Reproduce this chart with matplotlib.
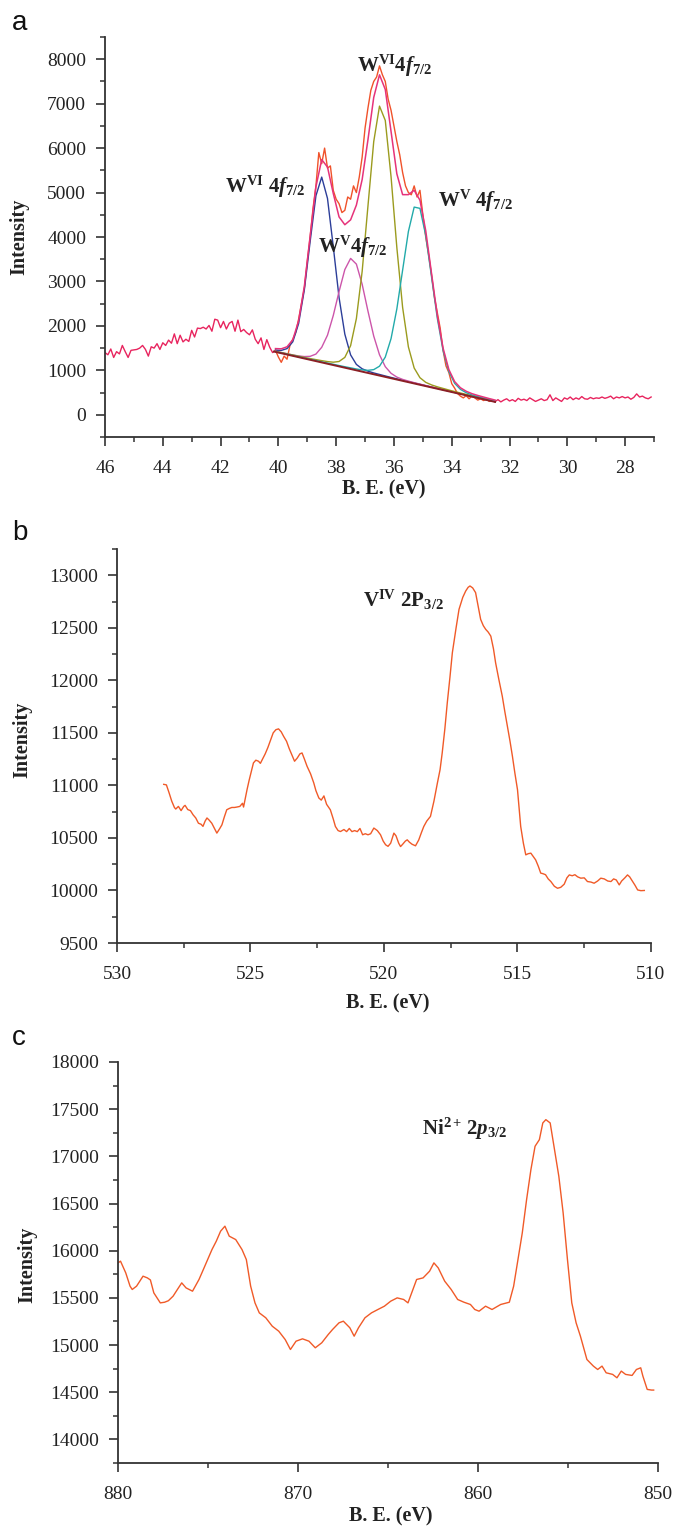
import matplotlib
matplotlib.use("Agg")
import matplotlib.pyplot as plt
from matplotlib.ticker import MultipleLocator

plt.rcParams['font.family'] = ['Liberation Serif', 'DejaVu Serif']
plt.rcParams['mathtext.fontset'] = 'custom'
plt.rcParams['mathtext.rm'] = 'Liberation Serif:bold'
plt.rcParams['mathtext.bf'] = 'Liberation Serif:bold'
plt.rcParams['mathtext.it'] = 'Liberation Serif:italic:bold'

# ---------------- Panel a : W 4f ----------------
a_bg_left_be = [46.0, 45.9, 45.8, 45.7, 45.6, 45.5, 45.4, 45.3, 45.2, 45.1, 45.0, 44.9, 44.8, 44.7, 44.6,
                44.5, 44.4, 44.3, 44.2, 44.1, 44.0, 43.9, 43.8, 43.7, 43.6, 43.5, 43.4, 43.3, 43.2, 43.1,
                43.0, 42.9, 42.8, 42.7, 42.6, 42.5, 42.4, 42.3, 42.2, 42.1, 42.0, 41.9, 41.8, 41.7, 41.6,
                41.5, 41.4, 41.3, 41.2, 41.1, 41.0, 40.9, 40.8, 40.7, 40.6, 40.5, 40.4, 40.3, 40.2, 40.1, 40.0]
a_bg_left_int = [1400, 1350, 1480, 1290, 1420, 1370, 1560, 1420, 1290, 1450, 1460, 1470, 1500, 1560, 1470,
                 1320, 1530, 1500, 1600, 1470, 1620, 1560, 1680, 1610, 1820, 1600, 1790, 1640, 1700, 1650,
                 1900, 1750, 1950, 1940, 1970, 1930, 2010, 1880, 2150, 2130, 1960, 2100, 1930, 2060, 2100,
                 1880, 2130, 1870, 1920, 1850, 1800, 1910, 1700, 1600, 1730, 1470, 1690, 1520, 1400, 1450, 1430]

a_raw_be = [40.1, 40.0, 39.9, 39.8, 39.7, 39.6, 39.5, 39.4, 39.3, 39.2, 39.1, 39.0, 38.9, 38.8, 38.7,
            38.6, 38.5, 38.4, 38.3, 38.2, 38.1, 38.0, 37.9, 37.8, 37.7, 37.6, 37.5, 37.4, 37.3, 37.2,
            37.1, 37.0, 36.9, 36.8, 36.7, 36.6, 36.5, 36.4, 36.3, 36.2, 36.1, 36.0, 35.9, 35.8, 35.7,
            35.6, 35.5, 35.4, 35.3, 35.2, 35.1, 35.0, 34.9, 34.8, 34.7, 34.6, 34.5, 34.4, 34.3, 34.2,
            34.1, 34.0, 33.9, 33.8, 33.7, 33.6, 33.5, 33.4, 33.3, 33.2, 33.1, 33.0, 32.9, 32.8, 32.7,
            32.6, 32.5]
a_raw_int = [1450, 1300, 1180, 1320, 1250, 1560, 1700, 1850, 2150, 2500, 2850, 3450, 4000, 4650, 5150,
             5900, 5650, 6000, 5550, 5600, 5050, 4850, 4750, 4550, 4600, 4900, 4850, 5150, 5000, 5350,
             5800, 6450, 6900, 7300, 7500, 7600, 7850, 7650, 7500, 7100, 6850, 6500, 6150, 5850, 5450,
             5150, 5000, 4950, 5150, 4900, 5050, 4500, 4000, 3600, 3150, 2650, 2300, 1950, 1450, 1100,
             950, 700, 600, 480, 420, 380, 430, 360, 420, 380, 330, 360, 320, 350, 300,
             330, 290]

a_bg_right_be = [32.5, 32.4, 32.3, 32.2, 32.1, 32.0, 31.9, 31.8, 31.7, 31.6, 31.5, 31.4, 31.3, 31.2, 31.1,
                 31.0, 30.9, 30.8, 30.7, 30.6, 30.5, 30.4, 30.3, 30.2, 30.1, 30.0, 29.9, 29.8, 29.7, 29.6,
                 29.5, 29.4, 29.3, 29.2, 29.1, 29.0, 28.9, 28.8, 28.7, 28.6, 28.5, 28.4, 28.3, 28.2, 28.1,
                 28.0, 27.9, 27.8, 27.7, 27.6, 27.5, 27.4, 27.3, 27.2, 27.1]
a_bg_right_int = [300, 340, 290, 330, 360, 310, 340, 300, 370, 330, 350, 320, 380, 340, 300,
                  330, 360, 320, 340, 450, 320, 380, 340, 300, 380, 350, 400, 340, 380, 350,
                  410, 360, 350, 390, 360, 380, 370, 400, 370, 390, 420, 360, 400, 380, 410,
                  380, 400, 350, 390, 470, 400, 420, 380, 360, 400]

# linear background under the fitted region
a_base_be = [40.15, 32.5]
a_base_int = [1422, 290]

# fitted components (including background)
a_fit_be = [40.1, 39.9, 39.7, 39.5, 39.3, 39.1, 38.9, 38.7, 38.5, 38.3, 38.1, 37.9, 37.7,
            37.5, 37.3, 37.1, 36.9, 36.7, 36.5, 36.3, 36.1, 35.9, 35.7, 35.5, 35.3, 35.1,
            34.9, 34.7, 34.5, 34.3, 34.1, 33.9, 33.7, 33.5, 33.3, 33.1, 32.9, 32.7, 32.5]
a_w6_low = [1456, 1448, 1489, 1643, 2051, 2818, 3902, 4928, 5348, 4868, 3784, 2640, 1814,
            1347, 1133, 1034, 982, 941, 907, 873, 840, 808, 776, 746, 715, 685,
            654, 623, 594, 563, 534, 503, 473, 444, 413, 384, 354, 324, 295]
a_w5_low = [1428, 1400, 1373, 1346, 1324, 1310, 1315, 1366, 1518, 1791, 2234, 2772, 3267,
            3518, 3390, 2936, 2334, 1771, 1350, 1082, 933, 848, 796, 758, 723, 690,
            658, 626, 596, 565, 535, 504, 474, 444, 414, 384, 354, 324, 295]
a_w6_high = [1429, 1400, 1373, 1345, 1317, 1291, 1265, 1241, 1218, 1197, 1183, 1199, 1291,
             1555, 2165, 3228, 4693, 6145, 6945, 6623, 5355, 3764, 2416, 1527, 1052, 834,
             730, 672, 629, 593, 557, 523, 490, 458, 426, 395, 363, 332, 302]
a_w5_high = [1421, 1391, 1363, 1334, 1305, 1276, 1248, 1220, 1191, 1163, 1136, 1108, 1081,
             1056, 1030, 1009, 1000, 1016, 1093, 1298, 1714, 2381, 3254, 4124, 4673, 4644,
             4035, 3106, 2174, 1447, 973, 708, 572, 497, 446, 409, 375, 341, 309]
a_envelope = [1489, 1484, 1530, 1690, 2109, 2894, 4019, 5131, 5741, 5575, 4980, 4452, 4276,
              4386, 4718, 5294, 6186, 7140, 7649, 7320, 6373, 5422, 4953, 4953, 5051, 4828,
              4142, 3182, 2235, 1500, 1018, 747, 608, 529, 475, 435, 399, 364, 331]

# ---------------- Panel b : V 2p ----------------
b_be = [528.25, 528.15, 528.05, 527.95, 527.85, 527.8, 527.7, 527.6, 527.5, 527.45, 527.35, 527.25,
        527.15, 527.05, 526.95, 526.85, 526.78, 526.7, 526.63, 526.55, 526.45, 526.35, 526.26, 526.15,
        526.07, 525.98, 525.89, 525.8, 525.7, 525.6, 525.51, 525.4, 525.3, 525.26, 525.2, 525.13,
        525.05, 524.95, 524.89, 524.8, 524.7, 524.63, 524.55, 524.45, 524.35, 524.25, 524.15, 524.05,
        523.95, 523.85, 523.76, 523.65, 523.55, 523.45, 523.35, 523.25, 523.15, 523.07, 522.98, 522.88,
        522.75, 522.63, 522.55, 522.44, 522.35, 522.25, 522.15, 522.01, 521.9, 521.82, 521.72, 521.63,
        521.5, 521.4, 521.3, 521.2, 521.1, 521.0, 520.9, 520.8, 520.7, 520.6, 520.5, 520.38,
        520.25, 520.13, 520.03, 519.94, 519.85, 519.75, 519.63, 519.55, 519.45, 519.38, 519.3, 519.2,
        519.13, 519.05, 518.95, 518.82, 518.7, 518.6, 518.51, 518.4, 518.26, 518.13, 518.0, 517.9,
        517.82, 517.72, 517.63, 517.53, 517.44, 517.3, 517.19, 517.05, 516.94, 516.85, 516.78, 516.68,
        516.57, 516.47, 516.38, 516.28, 516.19, 516.1, 516.0, 515.9, 515.82, 515.7, 515.57, 515.48,
        515.38, 515.28, 515.19, 515.1, 515.0, 514.94, 514.88, 514.78, 514.69, 514.6, 514.5, 514.4,
        514.32, 514.22, 514.13, 514.05, 513.95, 513.85, 513.75, 513.62, 513.5, 513.38, 513.25, 513.15,
        513.06, 512.95, 512.85, 512.75, 512.63, 512.5, 512.38, 512.25, 512.13, 512.0, 511.88, 511.75,
        511.62, 511.5, 511.4, 511.3, 511.19, 511.1, 510.98, 510.88, 510.8, 510.69, 510.6, 510.5,
        510.38, 510.25]
b_int = [11010, 11005, 10930, 10850, 10790, 10775, 10800, 10760, 10800, 10810, 10770, 10760,
         10720, 10690, 10640, 10630, 10610, 10660, 10690, 10670, 10640, 10590, 10546, 10590,
         10625, 10700, 10768, 10780, 10790, 10790, 10794, 10800, 10830, 10794, 10870, 10959,
         11050, 11150, 11214, 11240, 11230, 11210, 11250, 11300, 11360, 11430, 11500, 11530,
         11538, 11510, 11467, 11420, 11350, 11290, 11230, 11260, 11300, 11309, 11250, 11181,
         11110, 11023, 10950, 10880, 10860, 10900, 10820, 10768, 10680, 10609, 10570, 10561,
         10580, 10560, 10590, 10560, 10570, 10560, 10590, 10530, 10540, 10530, 10540, 10594,
         10570, 10530, 10470, 10435, 10420, 10450, 10546, 10520, 10450, 10418, 10440, 10470,
         10482, 10460, 10440, 10425, 10480, 10550, 10609, 10660, 10705, 10850, 11023, 11150,
         11309, 11540, 11786, 12030, 12263, 12500, 12676, 12790, 12850, 12885, 12898, 12880,
         12835, 12700, 12580, 12520, 12485, 12460, 12421, 12300, 12167, 12010, 11849, 11710,
         11563, 11420, 11277, 11120, 10959, 10780, 10609, 10450, 10339, 10350, 10355, 10320,
         10291, 10230, 10165, 10160, 10150, 10110, 10085, 10040, 10021, 10030, 10060, 10120,
         10148, 10140, 10150, 10130, 10117, 10120, 10085, 10080, 10069, 10090, 10117, 10110,
         10090, 10085, 10110, 10100, 10053, 10090, 10120, 10148, 10130, 10085, 10050, 10005,
         9998, 10000]

# ---------------- Panel c : Ni 2p ----------------
c_be = [880.0, 879.86, 879.57, 879.33, 879.21, 878.97, 878.85, 878.61, 878.37, 878.2, 878.01, 877.65,
        877.41, 877.2, 876.94, 876.7, 876.46, 876.22, 875.86, 875.5, 875.26, 875.02, 874.78, 874.54,
        874.3, 874.06, 873.82, 873.46, 873.11, 872.87, 872.63, 872.39, 872.15, 871.79, 871.43, 871.07,
        870.71, 870.42, 870.11, 869.75, 869.39, 869.04, 868.68, 868.32, 868.08, 867.72, 867.48, 867.12,
        866.88, 866.64, 866.28, 865.92, 865.56, 865.2, 864.85, 864.49, 864.13, 863.89, 863.65, 863.41,
        863.05, 862.69, 862.45, 862.21, 861.85, 861.49, 861.13, 860.78, 860.42, 860.18, 859.94, 859.58,
        859.22, 858.74, 858.26, 858.02, 857.78, 857.54, 857.3, 857.06, 856.83, 856.59, 856.4, 856.23,
        855.99, 855.75, 855.51, 855.27, 855.03, 854.79, 854.55, 854.31, 853.95, 853.59, 853.35, 853.11,
        852.88, 852.52, 852.28, 852.04, 851.8, 851.44, 851.2, 850.96, 850.84, 850.6, 850.36, 850.24]
c_int = [15871, 15889, 15765, 15624, 15589, 15624, 15659, 15730, 15712, 15690, 15553, 15447,
         15454, 15470, 15518, 15589, 15659, 15606, 15571, 15695, 15800, 15906, 16012, 16101,
         16207, 16260, 16154, 16118, 16012, 15906, 15624, 15447, 15341, 15289, 15200, 15147,
         15058, 14953, 15041, 15066, 15041, 14971, 15024, 15112, 15165, 15236, 15253, 15183,
         15094, 15183, 15289, 15341, 15377, 15412, 15465, 15500, 15483, 15447, 15571, 15695,
         15712, 15783, 15871, 15818, 15677, 15589, 15483, 15454, 15430, 15377, 15359, 15412,
         15377, 15430, 15454, 15624, 15906, 16189, 16542, 16860, 17107, 17177, 17354, 17389,
         17354, 17072, 16789, 16401, 15906, 15447, 15236, 15094, 14847, 14777, 14741, 14777,
         14706, 14689, 14653, 14724, 14689, 14678, 14741, 14759, 14671, 14530, 14523, 14523]

# ---------------- drawing ----------------
W, H = 673, 1534
fig = plt.figure(figsize=(W / 100, H / 100), dpi=100)


def make_axes(left, right, top, bottom):
    return fig.add_axes([left / W, 1 - bottom / H, (right - left) / W, (bottom - top) / H])


def style(ax):
    for s in ('top', 'right'):
        ax.spines[s].set_visible(False)
    for s in ('left', 'bottom'):
        ax.spines[s].set_linewidth(1.3)
        ax.spines[s].set_color('#333333')
    ax.tick_params(which='both', direction='out', colors='#333333', labelcolor='#222222')
    ax.tick_params(which='major', length=6.5, width=1.2, labelsize=14)
    ax.tick_params(which='minor', length=3.5, width=1.1)
    ax.tick_params(axis='y', which='major', pad=7)
    ax.tick_params(axis='x', which='major', pad=10)


label_kw = dict(fontsize=14.5, fontweight='bold', color='#222222')

# panel a
axa = make_axes(105, 654, 37, 437)
axa.plot(a_bg_left_be, a_bg_left_int, color='#e8245e', lw=1.0)
axa.plot(a_bg_right_be, a_bg_right_int, color='#e8245e', lw=1.0)
axa.plot(a_raw_be, a_raw_int, color='#f0522a', lw=1.0)
axa.plot(a_fit_be, a_w6_low, color='#2c3e99', lw=1.0)
axa.plot(a_fit_be, a_w5_low, color='#cc55aa', lw=1.0)
axa.plot(a_fit_be, a_w6_high, color='#9b9b1e', lw=1.0)
axa.plot(a_fit_be, a_w5_high, color='#22aaaa', lw=1.0)
axa.plot(a_base_be, a_base_int, color='#8b1f24', lw=1.4)
axa.plot(a_fit_be, a_envelope, color='#e6337a', lw=1.1)
axa.set_xlim(46, 27)
axa.set_ylim(-500, 8500)
axa.xaxis.set_major_locator(MultipleLocator(2))
axa.xaxis.set_minor_locator(MultipleLocator(1))
axa.set_yticks(range(0, 8001, 1000))
axa.yaxis.set_minor_locator(MultipleLocator(500))
style(axa)
axa.set_ylabel('Intensity', **label_kw)
axa.set_xlabel('B. E. (eV)', **label_kw)
axa.yaxis.set_label_coords(-0.137, 0.5)
axa.xaxis.set_label_coords(0.508, -0.105)

ann_kw = dict(fontsize=15, color='#222222', transform=fig.transFigure, va='baseline', ha='left')
fig.text(357 / W, 1 - 72 / H, r'$\mathrm{W}^{\mathrm{VI}}\mathrm{4}f_{\mathrm{7/2}}$', **ann_kw)
fig.text(225 / W, 1 - 193 / H, r'$\mathrm{W}^{\mathrm{VI}}\ \mathrm{4}f_{\mathrm{7/2}}$', **ann_kw)
fig.text(318 / W, 1 - 253 / H, r'$\mathrm{W}^{\mathrm{V}}\mathrm{4}f_{\mathrm{7/2}}$', **ann_kw)
fig.text(438 / W, 1 - 207 / H, r'$\mathrm{W}^{\mathrm{V}}\ \mathrm{4}f_{\mathrm{7/2}}$', **ann_kw)

# panel b
axb = make_axes(117, 651, 549, 943)
axb.plot(b_be, b_int, color='#f05a28', lw=1.0)
axb.set_xlim(530, 510)
axb.set_ylim(9500, 13250)
axb.xaxis.set_major_locator(MultipleLocator(5))
axb.xaxis.set_minor_locator(MultipleLocator(2.5))
axb.set_yticks(range(9500, 13001, 500))
axb.yaxis.set_minor_locator(MultipleLocator(250))
style(axb)
axb.set_ylabel('Intensity', **label_kw)
axb.set_xlabel('B. E. (eV)', **label_kw)
axb.yaxis.set_label_coords(-0.158, 0.515)
axb.xaxis.set_label_coords(0.507, -0.127)
fig.text(363 / W, 1 - 607 / H, r'$\mathrm{V}^{\mathrm{IV}}\ \mathrm{2P}_{\mathrm{3/2}}$', **ann_kw)

# panel c
axc = make_axes(118, 658, 1062, 1463)
axc.plot(c_be, c_int, color='#f05a28', lw=1.0)
axc.set_xlim(880, 850)
axc.set_ylim(13750, 18000)
axc.xaxis.set_major_locator(MultipleLocator(10))
axc.xaxis.set_minor_locator(MultipleLocator(5))
axc.set_yticks(range(14000, 18001, 500))
axc.yaxis.set_minor_locator(MultipleLocator(250))
style(axc)
axc.set_ylabel('Intensity', **label_kw)
axc.set_xlabel('B. E. (eV)', **label_kw)
axc.yaxis.set_label_coords(-0.15, 0.494)
axc.xaxis.set_label_coords(0.506, -0.108)
fig.text(422 / W, 1 - 1135 / H, r'$\mathrm{Ni}^{\mathrm{2+}}\,\mathrm{2}p_{\mathrm{3/2}}$', **ann_kw)

# panel letters
for letter, ypix in (('a', 30), ('b', 540), ('c', 1045)):
    fig.text(12 / W, 1 - ypix / H, letter, fontsize=20, family='Liberation Sans',
             va='baseline', ha='left', color='#111111')

fig.savefig('out.png', dpi=100)
